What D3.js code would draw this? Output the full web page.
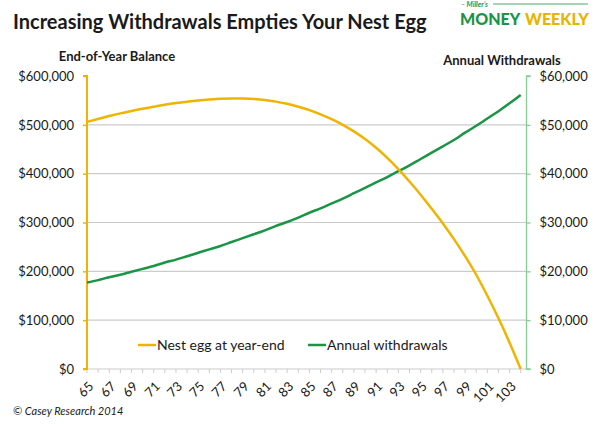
<!DOCTYPE html>
<html lang="en">
<head>
<meta charset="UTF-8">
<title>Increasing Withdrawals Empties Your Nest Egg</title>
<script src="https://d3js.org/d3.v7.min.js"></script>
<style>
	body { margin: 0; background: #fff; }
	svg { display: block; font-family: Lato, "Open Sans", sans-serif; }
</style>
</head>
<body>
<div id="chart"></div>
<script>
	// ages 65..104, one point per year
	const ages = d3.range(65, 105)
	const ageLabels = d3.range(65, 104, 2)

	// end-of-year balance
	const nestEgg = [
		506000, 512000, 518000, 523500, 528500, 533000, 537000, 541000, 544500, 547500,
		550000, 552000, 553500, 554000, 554000, 553000, 551000, 547500, 543000, 537000,
		530000, 521500, 511500, 500000, 486500, 471000, 453000, 432500, 409500, 384000,
		357000, 328000, 298000, 266000, 231000, 193000, 150000, 104000, 54000, 0
	]

	// annual withdrawals
	const withdrawals = [
		17700, 18200, 18800, 19300, 19900, 20500, 21100, 21800, 22400, 23100,
		23800, 24500, 25200, 26000, 26800, 27600, 28400, 29300, 30100, 31000,
		32000, 32900, 33900, 34900, 36000, 37100, 38200, 39300, 40500, 41700,
		43000, 44300, 45600, 46900, 48400, 49800, 51300, 52800, 54400, 56100
	]

	const leftTicks = [0, 100000, 200000, 300000, 400000, 500000, 600000]
	const rightTicks = [0, 10000, 20000, 30000, 40000, 50000, 60000]
	const seriesNames = ['Nest egg at year-end', 'Annual withdrawals']

	const yellow = '#f0b400'
	const green = '#1a9445'
	const lightGreen = '#86cf94'
	const grid = '#cccccc'

	const width = 600, height = 425
	const plot = {left: 87, right: 526.5, top: 76, bottom: 369}

	const svg = d3.select('#chart').append('svg')
		.attr('width', width).attr('height', height)

	const x = d3.scalePoint().domain(ages).range([plot.left, 520.7])
	const yLeft = d3.scaleLinear().domain([0, 600000]).range([plot.bottom, plot.top])
	const yRight = d3.scaleLinear().domain([0, 60000]).range([plot.bottom, plot.top])
	const money = d3.format('$,')

	// title
	svg.append('text')
		.attr('x', 13).attr('y', 29)
		.attr('font-size', 20).attr('font-weight', 700).attr('fill', '#1a1a1a')
		.text('Increasing Withdrawals Empties Your Nest Egg')

	// logo
	const logo = svg.append('g')
	logo.append('text').attr('x', 461).attr('y', 6.5)
		.attr('font-size', 7).attr('font-style', 'italic').attr('font-weight', 700).attr('fill', green)
		.text('– Miller’s')
	logo.append('line').attr('x1', 493).attr('x2', 588).attr('y1', 4).attr('y2', 4)
		.attr('stroke', green).attr('stroke-width', 0.8)
	logo.append('text').attr('x', 460).attr('y', 25)
		.attr('font-size', 16).attr('font-weight', 900).attr('fill', green)
		.text('MONEY')
	logo.append('text').attr('x', 525).attr('y', 25)
		.attr('font-size', 16).attr('font-weight', 900).attr('fill', '#e8b400')
		.text('WEEKLY')

	// axis titles
	svg.append('text').attr('x', 117).attr('y', 61).attr('text-anchor', 'middle')
		.attr('font-size', 13).attr('font-weight', 700).attr('fill', '#1a1a1a')
		.text('End-of-Year Balance')
	svg.append('text').attr('x', 502).attr('y', 65).attr('text-anchor', 'middle')
		.attr('font-size', 13).attr('font-weight', 700).attr('fill', '#1a1a1a')
		.text('Annual Withdrawals')

	// gridlines
	svg.append('g').selectAll('line')
		.data(leftTicks.filter(d => d > 0 && d < 600000))
		.join('line')
		.attr('x1', plot.left).attr('x2', plot.right)
		.attr('y1', d => yLeft(d)).attr('y2', d => yLeft(d))
		.attr('stroke', grid).attr('stroke-width', 1.2)

	// x axis
	const xAxis = svg.append('g').attr('transform', `translate(0,${plot.bottom})`)
	xAxis.append('line').attr('x1', plot.left).attr('x2', plot.right)
		.attr('stroke', grid).attr('stroke-width', 1.2)
	xAxis.selectAll('line.tick').data(ages).join('line').attr('class', 'tick')
		.attr('x1', d => x(d)).attr('x2', d => x(d)).attr('y1', 0).attr('y2', 4)
		.attr('stroke', grid)
	xAxis.selectAll('text').data(ageLabels).join('text')
		.attr('transform', d => `translate(${x(d) + 4},${15}) rotate(-45)`)
		.attr('text-anchor', 'end').attr('dy', '0.35em')
		.attr('font-size', 13).attr('fill', '#1a1a1a')
		.text(d => d)

	// left axis
	const leftAxis = svg.append('g').attr('transform', `translate(${plot.left},0)`)
		.call(d3.axisLeft(yLeft).tickValues(leftTicks).tickFormat(money).tickSize(4).tickPadding(9))
	leftAxis.select('.domain').attr('stroke', yellow).attr('stroke-width', 2).attr('d', `M-4,${plot.top}H0V${plot.bottom}H-4`)
	leftAxis.selectAll('.tick line').attr('stroke', yellow).attr('stroke-width', 1.5)
	leftAxis.selectAll('.tick text').attr('font-size', 13).attr('fill', '#1a1a1a').attr('font-family', 'Lato, sans-serif')

	// right axis
	const rightAxis = svg.append('g').attr('transform', `translate(${plot.right},0)`)
		.call(d3.axisRight(yRight).tickValues(rightTicks).tickFormat(money).tickSize(4).tickPadding(9))
	rightAxis.select('.domain').attr('stroke', lightGreen).attr('stroke-width', 1.3).attr('d', `M4,${plot.top}H0V${plot.bottom}H4`)
	rightAxis.selectAll('.tick line').attr('stroke', lightGreen).attr('stroke-width', 1.3)
	rightAxis.selectAll('.tick text').attr('font-size', 13).attr('fill', '#1a1a1a').attr('font-family', 'Lato, sans-serif')

	// lines
	const nestLine = d3.line().x((d, i) => x(ages[i])).y(d => yLeft(d)).curve(d3.curveMonotoneX)
	const wdLine = d3.line().x((d, i) => x(ages[i])).y(d => yRight(d)).curve(d3.curveMonotoneX)

	svg.append('path').datum(withdrawals).attr('d', wdLine)
		.attr('fill', 'none').attr('stroke', green).attr('stroke-width', 2.5)
	svg.append('path').datum(nestEgg).attr('d', nestLine)
		.attr('fill', 'none').attr('stroke', yellow).attr('stroke-width', 2.5)

	// legend
	const legendX = [138, 308]
	const legendColors = [yellow, green]
	const legend = svg.append('g').selectAll('g').data(seriesNames).join('g')
		.attr('transform', (d, i) => `translate(${legendX[i]},345)`)
	legend.append('line').attr('x1', 0).attr('x2', 18)
		.attr('stroke', (d, i) => legendColors[i]).attr('stroke-width', 2.5)
	legend.append('text').attr('x', 19).attr('dy', '0.35em')
		.attr('font-size', 14).attr('fill', '#1a1a1a')
		.text(d => d)

	// source
	svg.append('text').attr('x', 13).attr('y', 415)
		.attr('font-size', 11).attr('font-style', 'italic').attr('fill', '#1a1a1a')
		.text('© Casey Research 2014')
</script>
</body>
</html>
